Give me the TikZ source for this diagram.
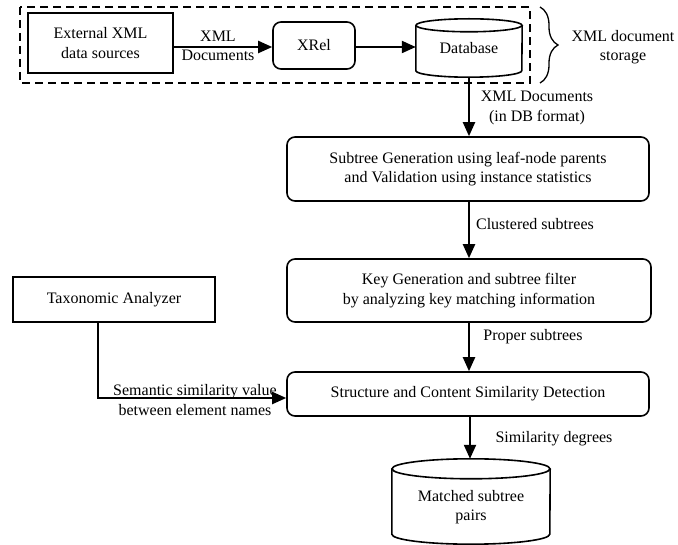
\documentclass[tikz,border=0pt]{standalone}
\usepackage{fontspec}
\setmainfont{Liberation Serif}
\usetikzlibrary{arrows.meta,decorations.pathreplacing}
\begin{document}
\begin{tikzpicture}[x=1pt,y=-1pt,
  every node/.style={font=\fontsize{16}{19.5}\selectfont, align=center, inner sep=0pt},
  sqbox/.style={draw, line width=1.6pt},
  rbox/.style={draw, line width=1.6pt, rounded corners=8pt},
  cylspace/.style={inner sep=0pt},
  flow/.style={line width=2.2pt, -{Triangle[length=14pt,width=12pt]}},
  cylline/.style={line width=1.6pt}]
\useasboundingbox (0,0) rectangle (678,545);

% storage group
\draw[line width=1.6pt, dash pattern=on 8pt off 5pt] (20,7) rectangle (530,83);
\draw[line width=1.3pt, decorate, decoration={brace, amplitude=18pt}] (540,7) -- (540,83);
\node (storage) at (623,47) {XML document\\storage};

% boxes
\node[sqbox, minimum width=145pt, minimum height=60pt] (ext) at (100.5,43) {External XML\\data sources};
\node[rbox, minimum width=82pt, minimum height=47pt] (xrel) at (314,45.5) {XRel};
\node[cylspace, minimum width=106pt, minimum height=58pt] (db) at (469,48) {Database};
\node[rbox, minimum width=362pt, minimum height=64pt] (sub) at (468,169)
  {Subtree Generation using leaf-node parents\\and Validation using instance statistics};
\node[rbox, minimum width=364pt, minimum height=63pt] (key) at (469,290.5)
  {Key Generation and subtree filter\\by analyzing key matching information};
\node[rbox, minimum width=362pt, minimum height=44pt] (str) at (468,394)
  {Structure and Content Similarity Detection};
\node[sqbox, minimum width=202pt, minimum height=45pt] (tax) at (114,299.5) {Taxonomic Analyzer};
\node[cylspace, minimum width=158pt, minimum height=85pt] (match) at (471,501.5) {};
\node (matchtxt) at (471,507) {Matched subtree\\pairs};

% cylinders
\draw[cylline] ([yshift=-6.5pt]db.north west) -- ([yshift=6.5pt]db.south west)
  arc[start angle=180, end angle=360, x radius=53pt, y radius=6.5pt]
  -- ([yshift=-6.5pt]db.north east);
\draw[cylline] ([yshift=-6.5pt]db.north) ellipse[x radius=53pt, y radius=6.5pt];
\draw[cylline] ([yshift=-10pt]match.north west) -- ([yshift=10pt]match.south west)
  arc[start angle=180, end angle=360, x radius=79pt, y radius=10pt]
  -- ([yshift=-10pt]match.north east);
\draw[cylline] ([yshift=-10pt]match.north) ellipse[x radius=79pt, y radius=10pt];

% connectors
\draw[flow] (ext.east |- 0,47) -- (xrel.west |- 0,47);
\draw[flow] (xrel.east |- 0,47) -- (db.west |- 0,47);
\draw[flow] (db.south) -- (db.south |- sub.north);
\draw[flow] (sub.south -| 469,0) -- (key.north -| 469,0);
\draw[flow] (key.south -| 469,0) -- (str.north -| 469,0);
\draw[flow] (str.south -| 470,0) -- (match.north -| 470,0);
\draw[flow] (tax.south -| 98,0) |- ([yshift=-4pt]str.west);

% connector labels
\node (l1) at (218,46) {XML\\Documents};
\node (l2) at (537,108) {XML Documents\\(in DB format)};
\node (l3) at (535,224) {Clustered subtrees};
\node (l4) at (533,337) {Proper subtrees};
\node (l5) at (195,400) {Semantic similarity value\\between element names};
\node (l6) at (554,439) {Similarity degrees};
\end{tikzpicture}
\end{document}
